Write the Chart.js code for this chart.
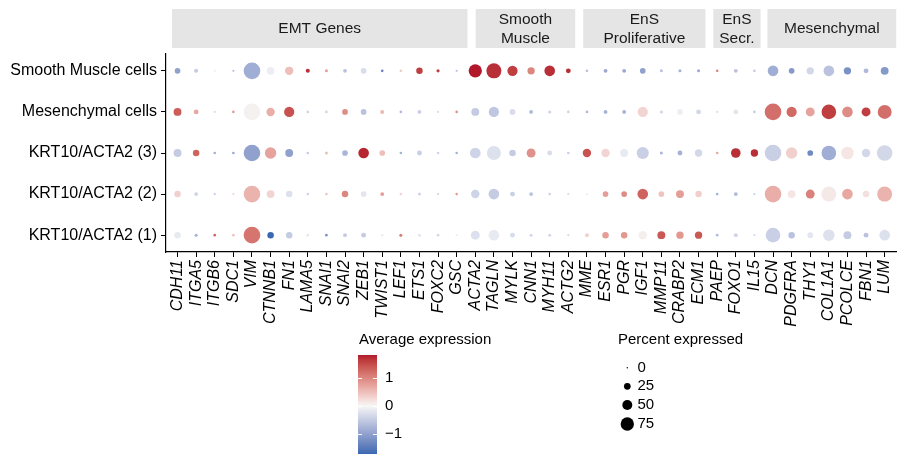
<!DOCTYPE html>
<html><head><meta charset="utf-8">
<script src="https://cdn.jsdelivr.net/npm/chart.js@4/dist/chart.umd.min.js"></script>
<style>html,body{margin:0;padding:0;background:#fff;}canvas{display:block;}</style>
</head><body>
<canvas id="c" width="907" height="461"></canvas>
<script>
// ---------- data ----------
const genes = ['CDH11','ITGA5','ITGB6','SDC1','VIM','CTNNB1','FN1','LAMA5','SNAI1','SNAI2','ZEB1','TWIST1','LEF1','ETS1','FOXC2','GSC',
  'ACTA2','TAGLN','MYLK','CNN1','MYH11','ACTG2',
  'MME','ESR1','PGR','IGF1','MMP11','CRABP2','ECM1',
  'PAEP','FOXO1','IL15',
  'DCN','PDGFRA','THY1','COL1A1','PCOLCE','FBN1','LUM'];
const cellTypes = ['KRT10/ACTA2 (1)','KRT10/ACTA2 (2)','KRT10/ACTA2 (3)','Mesenchymal cells','Smooth Muscle cells'];
const groupLabels = [['EMT Genes'],['Smooth','Muscle'],['EnS','Proliferative'],['EnS','Secr.'],['Mesenchymal']];
const groupSizes = [16,6,7,3,7];

// average expression (scaled)
const exprKRT1 = [-0.15,-0.8,1.3,0.45,1.15,-1.71,-0.5,-0.2,-1.2,-0.5,-0.5,-0.1,1.1,-0.2,-0.35,-0.1,
  -0.25,-0.15,-0.3,-0.35,-0.35,-0.3, 0.35,0.8,0.85,0.08,1.4,0.85,1.4, -0.7,-0.4,-0.3, -0.45,-0.6,-0.2,-0.25,-0.5,-0.6,-0.25];
const exprKRT2 = [0.35,-0.4,-0.5,0.3,0.6,0.3,-0.25,-0.4,0.45,1.0,-0.2,0.8,0.3,-0.4,-0.4,0.8,
  -0.4,-0.5,-0.45,-0.6,-0.4,-0.3, -0.1,0.8,0.95,1.3,0.45,0.8,0.35, -0.8,-0.7,-0.4, 0.65,0.15,1.05,0.12,0.7,0.2,0.6];
const exprKRT3 = [-0.5,1.3,-0.8,-0.9,-1.0,0.75,-1.0,-0.5,0.5,-0.75,1.75,0.5,-0.8,-0.45,-0.4,-0.8,
  -0.4,-0.25,-0.5,0.9,-0.3,-0.45, 1.45,0.3,-0.15,-0.45,-0.75,-0.8,-0.35, 0.7,1.7,1.7, -0.45,0.35,-1.3,-0.85,0.15,-0.35,-0.35];
const exprMes = [1.35,0.7,-0.3,0.8,0.05,0.65,1.45,-0.4,-0.4,0.95,-0.6,0.55,-0.7,-0.45,-0.3,0.9,
  -0.5,-0.55,-0.3,-0.7,-0.4,-0.4, -0.7,-0.8,-0.8,0.3,-0.4,-0.1,-0.35, -0.3,-0.2,-0.5, 1.2,1.25,0.75,1.6,0.95,1.6,1.2];
const exprSMC = [-1.0,-0.5,0.1,-0.6,-0.85,-0.1,0.5,1.7,0.8,-0.6,-0.3,-1.4,0.4,1.6,1.6,-0.6,
  1.82,1.7,1.6,1.0,1.7,1.7, -0.6,-0.9,-0.9,-1.0,-0.6,-0.8,-0.9, 1.0,-0.6,-0.5, -0.85,-1.1,-0.35,-0.6,-1.2,-0.7,-1.1];

// percent expressed
const pctKRT1 = [24,7,5,5,100,24,24,5,5,11,16,5,7,7,5,3, 42,55,16,7,7,3, 11,24,24,38,34,30,30, 5,11,3, 85,24,20,61,34,16,55];
const pctKRT2 = [24,11,3,3,100,34,24,5,5,24,20,11,5,7,3,5, 38,55,16,11,5,3, 3,20,20,55,20,34,24, 5,11,3, 100,34,42,88,55,24,88];
const pctKRT3 = [34,24,5,5,100,61,34,5,7,20,55,20,5,16,5,5, 55,80,24,42,16,5, 38,38,34,66,7,16,30, 5,47,30, 100,61,20,85,70,38,92];
const pctMes = [34,16,3,5,100,38,52,5,5,20,20,12,5,11,3,5, 34,52,20,11,7,5, 5,11,11,52,7,20,16, 3,16,5, 100,52,42,85,55,42,80];
const pctSMC = [20,12,3,3,100,33,38,12,7,11,20,5,5,24,8,3, 75,88,52,30,55,16, 5,11,11,20,7,7,7, 5,11,5, 55,20,30,55,30,16,34];

const exprRows = [exprKRT1, exprKRT2, exprKRT3, exprMes, exprSMC];
const pctRows = [pctKRT1, pctKRT2, pctKRT3, pctMes, pctSMC];
const colorTicks = [-1, 0, 1];
const sizeBreaks = [0, 25, 50, 75];

// ---------- style / layout ----------
const FONT = "'Liberation Sans', Arial, Helvetica, sans-serif";
const FS = 16;
const stripEdges = [[-0.3,15.58],[16.02,21.37],[21.8,28.37],[28.79,31.33],[31.7,38.62]];

function hex2rgb(h){h=h.replace('#','');return [0,2,4].map(i=>parseInt(h.substr(i,2),16));}
function lin(c){c/=255;return c<=0.04045?c/12.92:Math.pow((c+0.055)/1.055,2.4);}
function delin(c){c=c<=0.0031308?12.92*c:1.055*Math.pow(c,1/2.4)-0.055;return Math.max(0,Math.min(255,Math.round(c*255)));}
function toLab(rgb){
  const [R,G,B]=rgb.map(lin);
  let X=(0.4124*R+0.3576*G+0.1805*B)/0.95047, Y=(0.2126*R+0.7152*G+0.0722*B), Z=(0.0193*R+0.1192*G+0.9505*B)/1.08883;
  const f=t=>t>0.008856?Math.cbrt(t):7.787*t+16/116;
  const fx=f(X),fy=f(Y),fz=f(Z);
  return [116*fy-16,500*(fx-fy),200*(fy-fz)];
}
function fromLab(lab){
  const fy=(lab[0]+16)/116, fx=fy+lab[1]/500, fz=fy-lab[2]/200;
  const fi=t=>t*t*t>0.008856?t*t*t:(t-16/116)/7.787;
  const X=fi(fx)*0.95047,Y=fi(fy),Z=fi(fz)*1.08883;
  const R=3.2406*X-1.5372*Y-0.4986*Z, G=-0.9689*X+1.8758*Y+0.0415*Z, B=0.0557*X-0.2040*Y+1.0570*Z;
  return `rgb(${delin(R)},${delin(G)},${delin(B)})`;
}
const LOW=toLab(hex2rgb('#3A69B1')), MID=toLab(hex2rgb('#F7F7F7')), HIGH=toLab(hex2rgb('#B2182B'));
const allExpr = exprRows.flat();
const vmin = Math.min(...allExpr), vmax = Math.max(...allExpr);
function colorFor(v){
  let a,b,t;
  if(v>=0){a=MID;b=HIGH;t=Math.min(1,v/vmax);} else {a=MID;b=LOW;t=Math.min(1,v/vmin);}
  return fromLab([0,1,2].map(i=>a[i]+(b[i]-a[i])*t));
}
function radiusFor(p){ return p < 25 ? 0.8 + p*(2.55/25) : 3.35 + (p-25)*0.066; }

const points = [];
cellTypes.forEach((ct, r) => genes.forEach((g, c) => points.push({x:c, y:r, v:exprRows[r][c], p:pctRows[r][c]})));

const decor = {
  id:'decor',
  afterDraw(chart){
    const ctx = chart.ctx, xs = chart.scales.x;
    ctx.save();
    // strips
    stripEdges.forEach((e,i)=>{
      const x0 = xs.getPixelForValue(e[0]), x1 = xs.getPixelForValue(e[1]);
      ctx.fillStyle = '#E5E5E5';
      ctx.fillRect(x0, 9, x1-x0, 39);
      ctx.fillStyle = '#1A1A1A';
      ctx.font = `15.5px ${FONT}`;
      ctx.textAlign = 'center'; ctx.textBaseline = 'middle';
      const lines = groupLabels[i], cx = (x0+x1)/2;
      if (lines.length === 1) ctx.fillText(lines[0], cx, 28.5);
      else { ctx.fillText(lines[0], cx, 20); ctx.fillText(lines[1], cx, 38.5); }
    });
    // colour legend
    ctx.fillStyle = '#000'; ctx.textAlign = 'left'; ctx.textBaseline = 'middle';
    ctx.font = `15px ${FONT}`;
    ctx.fillText('Average expression', 359, 340);
    const zeroY = 406, unit = 28;
    const top = zeroY - vmax*unit, bot = zeroY - vmin*unit;
    for (let y = Math.floor(top); y < bot; y++) {
      const v = (zeroY - (y+0.5))/unit;
      ctx.fillStyle = colorFor(Math.max(vmin, Math.min(vmax, v)));
      ctx.fillRect(358, y, 19, 1);
    }
    ctx.strokeStyle = '#fff'; ctx.lineWidth = 1;
    colorTicks.forEach(v=>{
      const y = Math.round(zeroY - v*unit) + 0.5;
      ctx.beginPath(); ctx.moveTo(358,y); ctx.lineTo(362,y); ctx.moveTo(373,y); ctx.lineTo(377,y); ctx.stroke();
      ctx.fillStyle = '#000';
      ctx.fillText(v < 0 ? '\u2212' + Math.abs(v) : String(v), 385, zeroY - v*unit);
    });
    // size legend
    ctx.fillStyle = '#000';
    ctx.fillText('Percent expressed', 618, 340);
    const ys = [367.7, 386.3, 405, 424];
    sizeBreaks.forEach((p,i)=>{
      ctx.beginPath(); ctx.arc(627.3, ys[i], p === 0 ? 0.7 : radiusFor(p), 0, Math.PI*2); ctx.fill();
      ctx.fillText(String(p), 637.5, ys[i]);
    });
    ctx.restore();
  }
};

new Chart(document.getElementById('c'), {
  type: 'scatter',
  data: { datasets: [{
    data: points,
    pointRadius: c => radiusFor(c.raw.p),
    pointHoverRadius: c => radiusFor(c.raw.p),
    backgroundColor: c => colorFor(c.raw.v),
    borderWidth: 0
  }]},
  options: {
    responsive: false, animation: false, devicePixelRatio: 1, events: [],
    layout: { padding: { top: 54, right: 0, left: 0, bottom: 0 } },
    plugins: { legend: { display: false }, tooltip: { enabled: false } },
    scales: {
      x: {
        type: 'linear', position: 'bottom', min: -0.62, max: 38.62,
        afterBuildTicks: s => { s.ticks = genes.map((g,i)=>({value:i})); },
        afterFit: s => { s.height = 461 - 252; },
        ticks: { autoSkip: false, maxRotation: 90, minRotation: 90, padding: 3, color: '#000',
          font: { family: FONT, size: FS, style: 'italic' }, callback: v => genes[v] },
        grid: { display: true, drawOnChartArea: false, drawTicks: true, tickLength: 5, color: '#000', lineWidth: 1 },
        border: { display: true, color: '#000', width: 1.2 }
      },
      y: {
        type: 'linear', min: -0.41, max: 4.41,
        afterBuildTicks: s => { s.ticks = cellTypes.map((c,i)=>({value:i})); },
        afterFit: s => { s.width = 166; },
        ticks: { autoSkip: false, padding: 4, color: '#000',
          font: { family: FONT, size: FS }, callback: v => cellTypes[v] },
        grid: { display: true, drawOnChartArea: false, drawTicks: true, tickLength: 5, color: '#000', lineWidth: 1 },
        border: { display: true, color: '#000', width: 1.2 }
      }
    }
  },
  plugins: [decor]
});
</script>
</body></html>
